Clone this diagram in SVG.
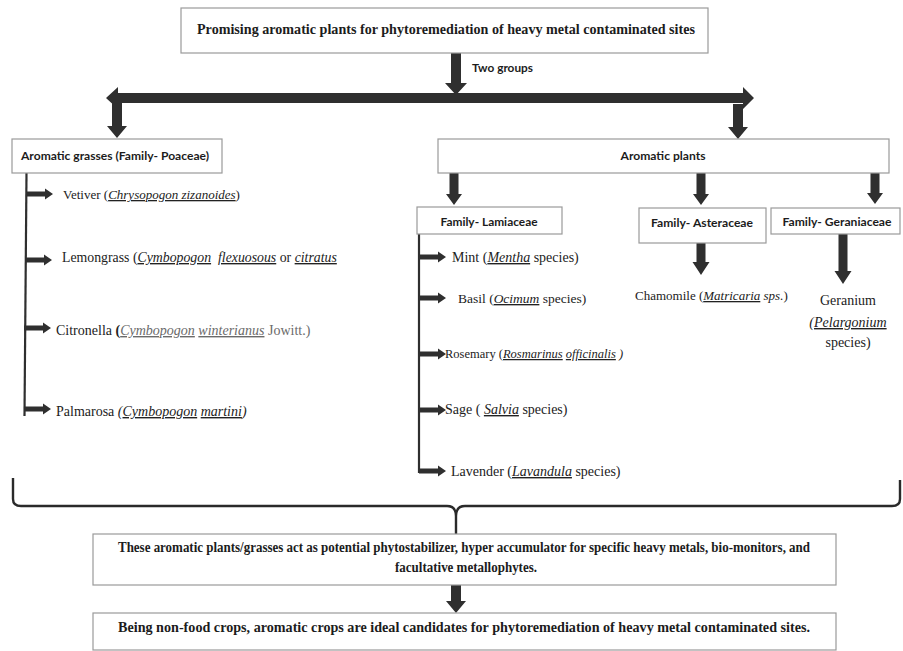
<svg xmlns="http://www.w3.org/2000/svg" xmlns:xlink="http://www.w3.org/1999/xlink" width="903" height="651" viewBox="0 0 903 651">
<style>
.box{fill:#fff;stroke:#9a9a9a;stroke-width:1.2}
.arr{fill:#2f2f2f}
.line{stroke:#2f2f2f;stroke-width:2.2;fill:none}
.brace{stroke:#2a2a2a;stroke-width:2.4;fill:none}
.tb{font-family:"Liberation Serif","Times New Roman",serif;font-weight:bold;fill:#1c1c1c}
.sb{font-family:Lato,"Liberation Sans",sans-serif;font-weight:bold;fill:#1c1c1c;font-size:12px}
.tx{font-family:"Liberation Serif","Times New Roman",serif;font-weight:normal;fill:#222}
.i{font-style:italic}
.u{text-decoration:underline}
.g{fill:#6a6a6a}
</style>
<defs>
<path id="sa" d="M0,-2.6 H19 V-5.5 L27,0 L19,5.5 V2.6 H0 Z"/>
</defs>
<rect width="903" height="651" fill="#fff"/>

<g id="connectors">
<path class="arr" d="M451,53 H461 V83 H467 L456,95 L445,83 H451 Z"/>
<path class="arr" d="M106,98 L118,87 V93 H743 V87 L754,98 L743,109 V103 H118 V109 Z"/>
<path class="arr" d="M112,103 H122 V126 H127 L117,138 L107,126 H112 Z"/>
<path class="arr" d="M733,104 H743 V127 H748 L738,139 L728,127 H733 Z"/>
<path class="arr" d="M449.5,173 H458.5 V194 H462 L454,205 L446,194 H449.5 Z"/>
<path class="arr" d="M696.5,173 H705.5 V194 H709 L701,205 L693,194 H696.5 Z"/>
<path class="arr" d="M870.5,173 H879.5 V193 H883 L875,204 L867,193 H870.5 Z"/>
<path class="arr" d="M696.5,243 H705.5 V262 H709.5 L701,275 L692.5,262 H696.5 Z"/>
<path class="arr" d="M838.5,234 H847.5 V271 H851.5 L843,284 L834.5,271 H838.5 Z"/>
<path class="line" d="M26.5,173 L24.5,416"/>
<g class="arr">
<use xlink:href="#sa" x="26" y="194"/>
<use xlink:href="#sa" x="25" y="260"/>
<use xlink:href="#sa" x="24" y="328"/>
<use xlink:href="#sa" x="24" y="409"/>
</g>
<path class="line" d="M419,234 V473"/>
<g class="arr">
<use xlink:href="#sa" x="419" y="257"/>
<use xlink:href="#sa" x="419" y="298"/>
<use xlink:href="#sa" x="419" y="354"/>
<use xlink:href="#sa" x="419" y="410"/>
<use xlink:href="#sa" x="419" y="471"/>
</g>
<path class="brace" d="M13,478 V499 Q13,506 21,506 H447 Q456,506 456,516 V535 M900,480 V499 Q900,506 892,506 H465 Q456,506 456,516"/>
<path class="arr" d="M451,585 H461 V601 H466 L456,613 L446,601 H451 Z"/>
</g>

<g id="title">
<rect class="box" x="181" y="8" width="527" height="45"/>
<text class="tb" x="446" y="34" font-size="15" text-anchor="middle" textLength="498" lengthAdjust="spacingAndGlyphs">Promising aromatic plants for phytoremediation of heavy metal contaminated sites</text>
</g>
<g id="label-two-groups">
<text class="sb" x="472" y="72" font-size="11.5" textLength="61" lengthAdjust="spacingAndGlyphs">Two groups</text>
</g>

<g id="grasses">
<rect class="box" x="12" y="139" width="210" height="34"/>
<text class="sb" x="21" y="160" textLength="188" lengthAdjust="spacingAndGlyphs">Aromatic grasses (Family- Poaceae)</text>
</g>
<g id="plants">
<rect class="box" x="438" y="139" width="451" height="34"/>
<text class="sb" x="663" y="160" text-anchor="middle" textLength="85" lengthAdjust="spacingAndGlyphs">Aromatic plants</text>
</g>

<g id="vetiver"><text class="tx" x="63" y="199" font-size="13">Vetiver (<tspan class="i u">Chrysopogon zizanoides</tspan>)</text></g>
<g id="lemongrass"><text class="tx" x="62" y="262" font-size="13.8" xml:space="preserve">Lemongrass (<tspan class="i u">Cymbopogon</tspan>  <tspan class="i u">flexuosous</tspan> or <tspan class="i u">citratus</tspan></text></g>
<g id="citronella"><text class="tx" x="56" y="335" font-size="14">Citronella <tspan font-weight="bold">(</tspan><tspan class="i u g">Cymbopogon</tspan> <tspan class="i u g">winterianus</tspan><tspan class="g"> Jowitt.)</tspan></text></g>
<g id="palmarosa"><text class="tx" x="56" y="416" font-size="14">Palmarosa <tspan class="i">(</tspan><tspan class="i u">Cymbopogon</tspan> <tspan class="i u">martini</tspan><tspan class="i">)</tspan></text></g>

<g id="lamiaceae">
<rect class="box" x="417" y="207" width="145" height="27"/>
<text class="sb" x="489" y="226" text-anchor="middle" textLength="97" lengthAdjust="spacingAndGlyphs">Family- Lamiaceae</text>
</g>
<g id="asteraceae">
<rect class="box" x="639" y="208" width="127" height="35"/>
<text class="sb" x="702" y="227" text-anchor="middle" textLength="102" lengthAdjust="spacingAndGlyphs">Family- Asteraceae</text>
</g>
<g id="geraniaceae">
<rect class="box" x="771" y="208" width="129" height="26"/>
<text class="sb" x="837" y="226" text-anchor="middle" textLength="109" lengthAdjust="spacingAndGlyphs">Family- Geraniaceae</text>
</g>

<g id="mint"><text class="tx" x="452" y="262" font-size="14">Mint (<tspan class="i u">Mentha</tspan> species)</text></g>
<g id="basil"><text class="tx" x="458" y="303" font-size="13.5">Basil (<tspan class="i u">Ocimum</tspan> species)</text></g>
<g id="rosemary"><text class="tx" x="445" y="358" font-size="12.5">Rosemary (<tspan class="i u">Rosmarinus</tspan> <tspan class="i u">officinalis</tspan><tspan class="i"> )</tspan></text></g>
<g id="sage"><text class="tx" x="445" y="414" font-size="14">Sage ( <tspan class="i u">Salvia</tspan> species)</text></g>
<g id="lavender"><text class="tx" x="451" y="476" font-size="14">Lavender (<tspan class="i u">Lavandula</tspan> species)</text></g>

<g id="chamomile"><text class="tx" x="635" y="300" font-size="13">Chamomile (<tspan class="i u">Matricaria</tspan><tspan class="i"> sps.</tspan>)</text></g>
<g id="geranium">
<text class="tx" x="848" y="305" font-size="14" text-anchor="middle">Geranium</text>
<text class="tx" x="848" y="327" font-size="14" text-anchor="middle"><tspan class="i">(</tspan><tspan class="i u">Pelargonium</tspan></text>
<text class="tx" x="848" y="347" font-size="14" text-anchor="middle">species)</text>
</g>

<g id="summary">
<rect class="box" x="93" y="534" width="743" height="51"/>
<text class="tb" x="464" y="552" font-size="14" text-anchor="middle" textLength="692" lengthAdjust="spacingAndGlyphs">These aromatic plants/grasses act as potential phytostabilizer, hyper accumulator for specific heavy metals, bio-monitors, and</text>
<text class="tb" x="466" y="572" font-size="14" text-anchor="middle" textLength="142" lengthAdjust="spacingAndGlyphs">facultative metallophytes.</text>
</g>
<g id="conclusion">
<rect class="box" x="93" y="613" width="743" height="37"/>
<text class="tb" x="464" y="632" font-size="14" text-anchor="middle" textLength="692" lengthAdjust="spacingAndGlyphs">Being non-food crops, aromatic crops are ideal candidates for phytoremediation of heavy metal contaminated sites.</text>
</g>
</svg>
